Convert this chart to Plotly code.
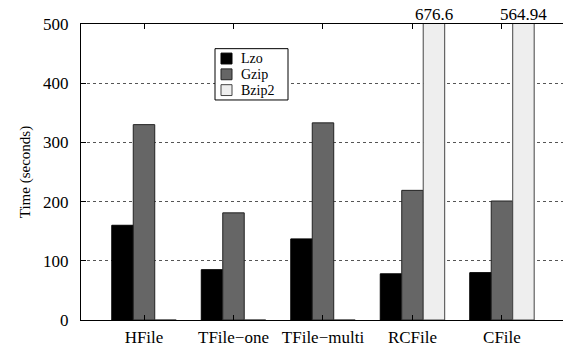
import plotly.graph_objects as go

categories = ["HFile", "TFile−one", "TFile−multi", "RCFile", "CFile"]
lzo = [160, 85, 137, 78, 80]
gzip = [330, 181, 333, 219, 201]
bzip2 = [0, 0, 0, 676.6, 564.94]
y_ticks = [0, 100, 200, 300, 400, 500]

series_names = ["Lzo", "Gzip", "Bzip2"]
series_values = [lzo, gzip, bzip2]
fill_colors = ["#000000", "#666666", "#eeeeee"]
edge_colors = ["#000000", "#222222", "#444444"]

FONT = "Liberation Serif"
W, H = 563, 347
ML, MR, MT, MB = 81, 0, 24, 23
PW, PH = W - ML - MR, H - MT - MB


def px_to_paper(xp, yp):
    return (xp - ML) / PW, (H - MB - yp) / PH


fig = go.Figure()
for name, vals, fc, ec in zip(series_names, series_values, fill_colors, edge_colors):
    fig.add_trace(go.Bar(name=name, x=categories, y=vals,
                         marker=dict(color=fc, line=dict(color=ec, width=1))))

bar_w = (1 - 0.28) / 3
for i, v in enumerate(bzip2):
    if v > y_ticks[-1]:
        fig.add_annotation(x=i + bar_w, y=y_ticks[-1], xref="x", yref="y",
                           text=f"{v:g}", showarrow=False, yanchor="bottom",
                           yshift=-2, font=dict(family=FONT, size=17, color="black"))

# legend box (drawn manually to match the compact key of the reference)
bx0, by0 = px_to_paper(215, 49)
bx1, by1 = px_to_paper(288, 101)
fig.add_shape(type="rect", xref="paper", yref="paper", x0=bx0, y0=by0, x1=bx1, y1=by1,
              line=dict(color="black", width=1), fillcolor="white", layer="above")
for k, (name, fc, ec) in enumerate(zip(series_names, fill_colors, edge_colors)):
    cy = 59 + 16 * k
    sx0, sy0 = px_to_paper(221, cy - 5.5)
    sx1, sy1 = px_to_paper(232, cy + 5.5)
    fig.add_shape(type="rect", xref="paper", yref="paper", x0=sx0, y0=sy0, x1=sx1, y1=sy1,
                  line=dict(color=ec, width=1), fillcolor=fc, layer="above")
    tx, ty = px_to_paper(240, cy)
    fig.add_annotation(x=tx, y=ty, xref="paper", yref="paper", text=name, showarrow=False,
                       xanchor="left", yanchor="middle", borderpad=0,
                       font=dict(family=FONT, size=14, color="black"))

fig.update_layout(
    width=W, height=H,
    margin=dict(l=ML, r=MR, t=MT, b=MB),
    paper_bgcolor="white", plot_bgcolor="white",
    barmode="group", bargap=0.28, bargroupgap=0,
    font=dict(family=FONT, size=17, color="black"),
    showlegend=False,
    xaxis=dict(range=[-0.704, 4.682], showline=True, linecolor="black", linewidth=1,
               mirror="ticks", ticks="inside", ticklen=5, tickcolor="black",
               showgrid=False, ticklabelstandoff=2,
               tickfont=dict(family=FONT, size=17, color="black")),
    yaxis=dict(range=[0, 500], tickvals=y_ticks, showline=True, linecolor="black",
               linewidth=1, mirror=False, ticks="inside", ticklen=5, tickcolor="black",
               showgrid=True, gridcolor="#555555", griddash="dot", gridwidth=1,
               zeroline=False, ticklabelstandoff=8,
               tickfont=dict(family=FONT, size=17, color="black"),
               title=dict(text="Time (seconds)", standoff=8,
                          font=dict(family=FONT, size=15, color="black"))),
)

fig.write_html("out.html")
